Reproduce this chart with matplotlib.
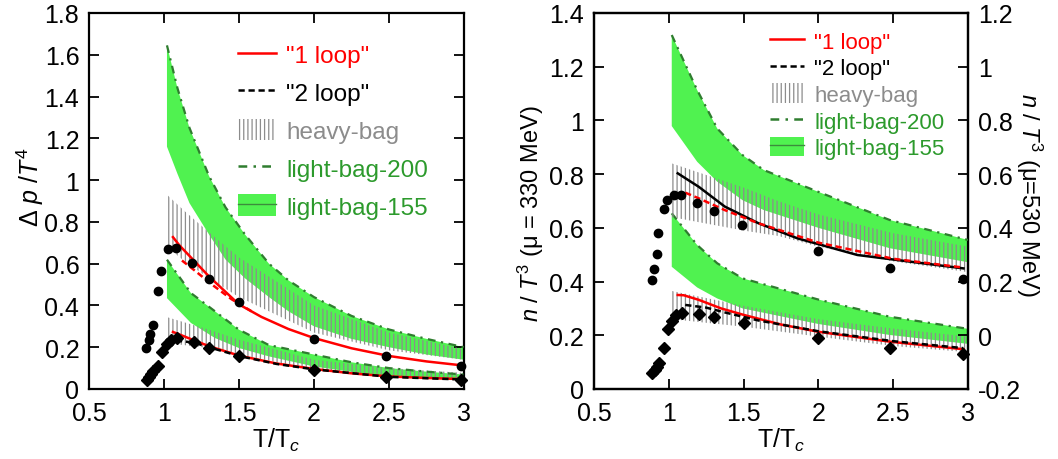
import numpy as np
import matplotlib
matplotlib.use("Agg")
import matplotlib.pyplot as plt
from matplotlib.patches import Patch
from matplotlib.lines import Line2D
from matplotlib.ticker import FormatStrFormatter, MultipleLocator

plt.rcParams['font.family'] = ['Liberation Sans', 'DejaVu Sans']
plt.rcParams['mathtext.fontset'] = 'custom'
plt.rcParams['mathtext.rm'] = 'Liberation Sans'
plt.rcParams['mathtext.it'] = 'Liberation Sans:italic'
plt.rcParams['hatch.linewidth'] = 0.9

# colours
RED = '#ff0000'
GREY = '#8c8c8c'
GREEN = '#50f250'
DKGREEN = '#2f7d2f'
TXTGREEN = '#2c9a2c'

DASH = (0, (2.5, 1.5))
DASHDOT = (0, (3.5, 2.5, 1, 2.5))

## left panel: pressure difference
p_circ_x = [0.88, 0.90, 0.91, 0.93, 0.96, 0.98, 1.03, 1.08, 1.19, 1.30, 1.50, 2.00, 2.48, 2.98]
p_circ_y = [0.195, 0.233, 0.265, 0.306, 0.467, 0.566, 0.670, 0.673, 0.604, 0.525, 0.416, 0.238, 0.156, 0.112]
p_diam_x = [0.89, 0.90, 0.915, 0.93, 0.96, 0.99, 1.02, 1.05, 1.09, 1.2, 1.3, 1.5, 2.0, 2.48, 2.98]
p_diam_y = [0.045, 0.055, 0.07, 0.085, 0.108, 0.175, 0.217, 0.234, 0.243, 0.226, 0.198, 0.156, 0.092, 0.059, 0.043]

p_loop1_hi_x = [1.06, 1.1, 1.19, 1.3, 1.5, 1.65, 1.83, 2.0, 2.25, 2.5, 2.75, 3.0]
p_loop1_hi_y = [0.727, 0.69, 0.622, 0.539, 0.405, 0.345, 0.287, 0.244, 0.195, 0.158, 0.132, 0.112]
p_dash_hi_x = [1.12, 1.2, 1.32, 1.45, 1.6]
p_dash_hi_y = [0.615, 0.57, 0.50, 0.43, 0.365]
p_loop1_lo_x = [1.06, 1.1, 1.2, 1.3, 1.5, 1.75, 2.0, 2.25, 2.5, 2.75, 3.0]
p_loop1_lo_y = [0.273, 0.262, 0.233, 0.205, 0.16, 0.122, 0.096, 0.075, 0.06, 0.053, 0.047]
p_loop2_lo_x = [1.08, 1.2, 1.3, 1.5, 1.75, 2.0, 2.5, 3.0]
p_loop2_lo_y = [0.232, 0.222, 0.2, 0.158, 0.12, 0.094, 0.058, 0.045]

# heavy-bag bands
p_heavy_hi_x = [1.02, 1.14, 1.3, 1.5, 2.0, 2.5, 3.0]
p_heavy_hi_top = [0.93, 0.85, 0.75, 0.63, 0.40, 0.27, 0.19]
p_heavy_hi_bot = [0.68, 0.61, 0.53, 0.44, 0.27, 0.185, 0.14]
p_heavy_lo_x = [1.02, 1.3, 1.5, 2.0, 2.5, 3.0]
p_heavy_lo_top = [0.344, 0.284, 0.236, 0.14, 0.10, 0.077]
p_heavy_lo_bot = [0.22, 0.196, 0.164, 0.093, 0.062, 0.048]

# light-bag bands (upper edge = light-bag-200)
p_light_hi_x = [1.02, 1.09, 1.17, 1.3, 1.41, 1.54, 1.7, 1.83, 2.0, 2.25, 2.5, 2.75, 3.0]
p_light_hi_top = [1.645, 1.44, 1.25, 1.02, 0.87, 0.74, 0.60, 0.52, 0.44, 0.35, 0.285, 0.24, 0.20]
p_light_hi_bot = [1.16, 1.03, 0.89, 0.74, 0.62, 0.53, 0.44, 0.372, 0.30, 0.24, 0.20, 0.165, 0.14]
p_light_lo_x = [1.02, 1.18, 1.34, 1.5, 1.7, 2.0, 2.25, 2.5, 2.75, 3.0]
p_light_lo_top = [0.619, 0.459, 0.372, 0.284, 0.21, 0.165, 0.128, 0.10, 0.083, 0.069]
p_light_lo_bot = [0.435, 0.316, 0.244, 0.196, 0.156, 0.108, 0.082, 0.06, 0.05, 0.041]

## right panel: density (diamonds -> left axis, circles -> right axis)
n_diam_x = [0.89, 0.905, 0.92, 0.935, 0.965, 0.995, 1.02, 1.05, 1.09, 1.2, 1.3, 1.5, 2.0, 2.48, 2.97]
n_diam_y = [0.06, 0.07, 0.083, 0.095, 0.152, 0.222, 0.253, 0.275, 0.283, 0.281, 0.267, 0.244, 0.189, 0.154, 0.130]
n_circ_x = [0.885, 0.90, 0.92, 0.93, 0.965, 0.99, 1.035, 1.08, 1.19, 1.30, 1.49, 2.0, 2.48, 2.97]
n_circ_y = [0.206, 0.248, 0.302, 0.379, 0.472, 0.505, 0.523, 0.524, 0.494, 0.463, 0.410, 0.314, 0.252, 0.211]

n_solid_hi_x = [1.06, 1.2, 1.375, 1.6, 1.86, 2.26, 2.7, 2.97]
n_solid_hi_y = [0.603, 0.553, 0.479, 0.417, 0.361, 0.299, 0.268, 0.249]
n_dash_hi_x = [1.11, 1.2, 1.375, 1.6, 2.0, 2.5, 2.97]
n_dash_hi_y = [0.531, 0.51, 0.466, 0.417, 0.345, 0.285, 0.252]
n_loop1_lo_x = [1.06, 1.1, 1.2, 1.35, 1.5, 1.75, 2.0, 2.48, 2.97]
n_loop1_lo_y = [0.35, 0.349, 0.332, 0.30, 0.276, 0.24, 0.213, 0.176, 0.148]
n_loop2_lo_x = [1.11, 1.25, 1.375, 1.6, 2.0, 2.5, 2.97]
n_loop2_lo_y = [0.313, 0.303, 0.285, 0.255, 0.215, 0.178, 0.152]

n_heavy_hi_x = [1.02, 1.5, 1.73, 2.0, 2.5, 3.0]
n_heavy_hi_top = [0.64, 0.55, 0.50, 0.45, 0.38, 0.33]
n_heavy_hi_bot = [0.44, 0.39, 0.37, 0.33, 0.275, 0.235]
n_heavy_lo_x = [1.02, 1.5, 2.0, 2.5, 3.0]
n_heavy_lo_top = [0.365, 0.31, 0.26, 0.225, 0.195]
n_heavy_lo_bot = [0.26, 0.232, 0.195, 0.16, 0.137]

n_light_hi_x = [1.02, 1.19, 1.324, 1.493, 1.636, 2.0, 2.478, 3.0]
n_light_hi_top = [1.118, 0.913, 0.77, 0.671, 0.615, 0.534, 0.429, 0.355]
n_light_hi_bot = [0.779, 0.646, 0.572, 0.503, 0.466, 0.40, 0.324, 0.272]
n_light_lo_x = [1.02, 1.19, 1.324, 1.493, 2.0, 2.478, 3.0]
n_light_lo_top = [0.654, 0.536, 0.468, 0.412, 0.333, 0.269, 0.224]
n_light_lo_bot = [0.455, 0.378, 0.337, 0.30, 0.242, 0.201, 0.168]

legend_labels = ['"1 loop"', '"2 loop"', 'heavy-bag', 'light-bag-200', 'light-bag-155']
legend_colors = [RED, 'black', GREY, TXTGREEN, TXTGREEN]


def light_band(ax, x, top, bot):
    ax.fill_between(x, bot, top, facecolor=GREEN, edgecolor='none', lw=0, zorder=1)
    ax.plot(x, top, color=DKGREEN, lw=1.6, ls=DASHDOT, zorder=3)


def heavy_band(ax, x, top, bot):
    ax.fill_between(x, bot, top, facecolor='none', edgecolor=GREY, hatch='||||', lw=0, zorder=2)


def style(ax, fmt='%g'):
    ax.tick_params(direction='in', length=7, width=1.3, labelsize=18, top=True, right=True)
    ax.tick_params(axis='x', pad=9)
    ax.tick_params(axis='y', pad=7)
    for s in ax.spines.values():
        s.set_linewidth(1.6)
    ax.xaxis.set_major_formatter(FormatStrFormatter(fmt))
    ax.yaxis.set_major_formatter(FormatStrFormatter(fmt))


def legend(ax, anchor, fs, spacing):
    handles = [Line2D([], [], color=RED, lw=1.8),
               Line2D([], [], color='black', lw=1.8, ls=DASH),
               Patch(facecolor='white', edgecolor=GREY, hatch='||||', lw=0),
               Line2D([], [], color=DKGREEN, lw=1.8, ls=DASHDOT),
               (Patch(facecolor=GREEN, lw=0), Line2D([], [], color='#3c8c3c', lw=1))]
    leg = ax.legend(handles, legend_labels, loc='upper left', bbox_to_anchor=anchor,
                    frameon=False, fontsize=fs, handlelength=1.55, handleheight=1.0,
                    handletextpad=0.45, labelspacing=spacing, borderpad=0, borderaxespad=0)
    for t, c in zip(leg.get_texts(), legend_colors):
        t.set_color(c)
    leg.set_zorder(10)


fig = plt.figure(figsize=(10.58, 4.6), dpi=100)

# left panel
ax = fig.add_axes([0.0841, 0.1522, 0.3544, 0.8174])
light_band(ax, p_light_hi_x, p_light_hi_top, p_light_hi_bot)
light_band(ax, p_light_lo_x, p_light_lo_top, p_light_lo_bot)
heavy_band(ax, p_heavy_hi_x, p_heavy_hi_top, p_heavy_hi_bot)
heavy_band(ax, p_heavy_lo_x, p_heavy_lo_top, p_heavy_lo_bot)
ax.plot(p_loop1_hi_x, p_loop1_hi_y, color=RED, lw=1.8, zorder=4)
ax.plot(p_dash_hi_x, p_dash_hi_y, color=RED, lw=1.8, ls=DASH, zorder=4)
ax.plot(p_loop1_lo_x, p_loop1_lo_y, color=RED, lw=1.8, zorder=4)
ax.plot(p_loop2_lo_x, p_loop2_lo_y, color='black', lw=1.8, ls=DASH, zorder=4)
ax.plot(p_circ_x, p_circ_y, 'o', color='black', ms=6, zorder=5, clip_on=False)
ax.plot(p_diam_x, p_diam_y, 'D', color='black', ms=6.5, zorder=5, clip_on=False)
ax.set_xlim(0.5, 3)
ax.set_ylim(0, 1.8)
ax.xaxis.set_major_locator(MultipleLocator(0.5))
ax.yaxis.set_major_locator(MultipleLocator(0.2))
style(ax)
ax.set_xlabel(r'T/T$_c$', fontsize=18, labelpad=0)
ax.set_ylabel(r'$\Delta\ p\ /T^4$', fontsize=18, va='center')
ax.yaxis.set_label_coords(-0.157, 0.54)
legend(ax, (0.397, 0.92), 17.5, 0.56)

# right panel
bx = fig.add_axes([0.5614, 0.1522, 0.3535, 0.8174])
bx2 = bx.twinx()
light_band(bx, n_light_lo_x, n_light_lo_top, n_light_lo_bot)
heavy_band(bx, n_heavy_lo_x, n_heavy_lo_top, n_heavy_lo_bot)
bx.plot(n_loop1_lo_x, n_loop1_lo_y, color=RED, lw=1.8, zorder=4)
bx.plot(n_loop2_lo_x, n_loop2_lo_y, color='black', lw=1.8, ls=DASH, zorder=4)
bx.plot(n_diam_x, n_diam_y, 'D', color='black', ms=6.5, zorder=5, clip_on=False)

light_band(bx2, n_light_hi_x, n_light_hi_top, n_light_hi_bot)
heavy_band(bx2, n_heavy_hi_x, n_heavy_hi_top, n_heavy_hi_bot)
bx2.plot(n_solid_hi_x, n_solid_hi_y, color='black', lw=1.8, zorder=4)
bx2.plot(n_dash_hi_x, n_dash_hi_y, color=RED, lw=1.8, ls=DASH, zorder=4)
bx2.plot(n_circ_x, n_circ_y, 'o', color='black', ms=6, zorder=5, clip_on=False)

bx.set_xlim(0.5, 3)
bx.set_ylim(0, 1.4)
bx2.set_ylim(-0.2, 1.2)
bx.xaxis.set_major_locator(MultipleLocator(0.5))
bx.yaxis.set_major_locator(MultipleLocator(0.2))
bx2.yaxis.set_major_locator(MultipleLocator(0.2))
style(bx)
bx.tick_params(right=False)
bx2.tick_params(direction='in', length=7, width=1.3, labelsize=18, pad=7)
bx2.yaxis.set_major_formatter(FormatStrFormatter('%g'))
for s in bx2.spines.values():
    s.set_linewidth(1.6)
bx.set_xlabel(r'T/T$_c$', fontsize=18, labelpad=0)
bx.set_ylabel(r'$n$ / $T^3$ ($\mathrm{\mu}$ = 330 MeV)', fontsize=17, va='center')
bx.yaxis.set_label_coords(-0.168, 0.47)
bx2.set_ylabel(r'$n$ / $T^3$ ($\mathrm{\mu}$=530 MeV)', fontsize=17, rotation=270, va='center')
bx2.yaxis.set_label_coords(1.163, 0.52)
legend(bx2, (0.47, 0.954), 16, 0.18)

fig.savefig('out.png', dpi=100)
